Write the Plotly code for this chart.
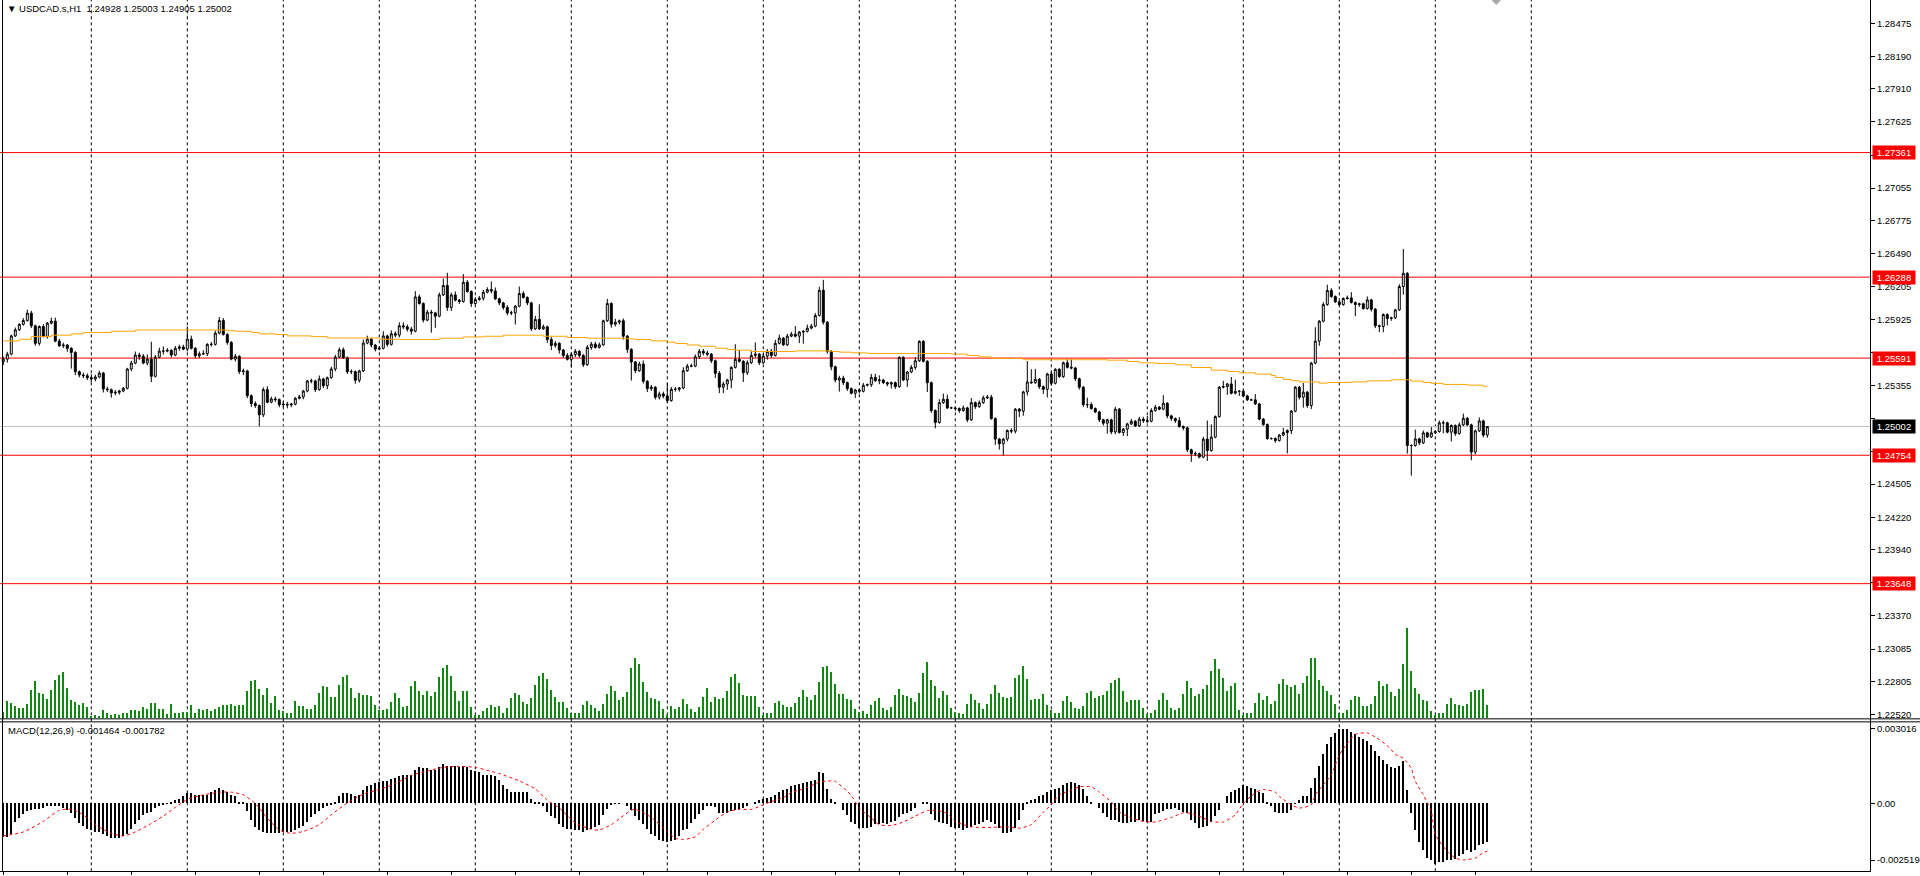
import plotly.graph_objects as go

# ---------------- data ----------------
header_text = "USDCAD.s,H1  1.24928 1.25003 1.24905 1.25002"
macd_text = "MACD(12,26,9) -0.001464 -0.001782"

first_open = 1.25560
closes = [
    1.25582, 1.25625, 1.25782, 1.25834, 1.25881, 1.25915, 1.25978, 1.25869, 1.25718, 1.25863, 1.25778, 1.25892,
    1.25909, 1.25737, 1.25697, 1.25703, 1.25675, 1.25640, 1.25474, 1.25445, 1.25439, 1.25422, 1.25411, 1.25428,
    1.25462, 1.25325, 1.25319, 1.25290, 1.25296, 1.25307, 1.25331, 1.25497, 1.25548, 1.25617, 1.25606, 1.25548,
    1.25582, 1.25434, 1.25599, 1.25651, 1.25651, 1.25657, 1.25617, 1.25675, 1.25686, 1.25668, 1.25754, 1.25675,
    1.25611, 1.25628, 1.25628, 1.25709, 1.25709, 1.25806, 1.25915, 1.25795, 1.25726, 1.25582, 1.25606, 1.25474,
    1.25480, 1.25267, 1.25199, 1.25182, 1.25102, 1.25319, 1.25211, 1.25239, 1.25233, 1.25188, 1.25194, 1.25188,
    1.25194, 1.25245, 1.25256, 1.25307, 1.25394, 1.25394, 1.25319, 1.25411, 1.25353, 1.25422, 1.25497, 1.25599,
    1.25662, 1.25594, 1.25474, 1.25474, 1.25400, 1.25480, 1.25720, 1.25754, 1.25703, 1.25668, 1.25675, 1.25782,
    1.25709, 1.25800, 1.25789, 1.25869, 1.25860, 1.25840, 1.25823, 1.26118, 1.26061, 1.25918, 1.25986, 1.25980,
    1.25952, 1.26135, 1.26216, 1.26027, 1.26135, 1.26090, 1.26078, 1.26244, 1.26164, 1.26061, 1.26095, 1.26106,
    1.26158, 1.26181, 1.26169, 1.26101, 1.26066, 1.26027, 1.25980, 1.25980, 1.26038, 1.26147, 1.26113, 1.26066,
    1.25843, 1.25924, 1.25843, 1.25860, 1.25752, 1.25700, 1.25718, 1.25660, 1.25614, 1.25580, 1.25620, 1.25649,
    1.25614, 1.25534, 1.25683, 1.25711, 1.25683, 1.25705, 1.25912, 1.26061, 1.25883, 1.25900, 1.25912, 1.25780,
    1.25666, 1.25557, 1.25482, 1.25540, 1.25391, 1.25328, 1.25340, 1.25254, 1.25282, 1.25265, 1.25225, 1.25322,
    1.25322, 1.25333, 1.25482, 1.25522, 1.25522, 1.25602, 1.25649, 1.25634, 1.25625, 1.25568, 1.25460, 1.25340,
    1.25368, 1.25402, 1.25511, 1.25580, 1.25563, 1.25465, 1.25551, 1.25614, 1.25625, 1.25551, 1.25608, 1.25649,
    1.25614, 1.25718, 1.25763, 1.25705, 1.25780, 1.25797, 1.25780, 1.25815, 1.25821, 1.25849, 1.25866, 1.25958,
    1.26175, 1.25900, 1.25649, 1.25516, 1.25402, 1.25419, 1.25379, 1.25328, 1.25288, 1.25316, 1.25305, 1.25357,
    1.25362, 1.25425, 1.25396, 1.25402, 1.25379, 1.25368, 1.25379, 1.25345, 1.25597, 1.25402, 1.25471, 1.25511,
    1.25568, 1.25735, 1.25563, 1.25379, 1.25139, 1.25036, 1.25207, 1.25236, 1.25162, 1.25162, 1.25156, 1.25139,
    1.25162, 1.25059, 1.25207, 1.25173, 1.25207, 1.25248, 1.25254, 1.25070, 1.24893, 1.24853, 1.24893, 1.24967,
    1.24962, 1.25151, 1.25134, 1.25299, 1.25385, 1.25379, 1.25408, 1.25345, 1.25322, 1.25454, 1.25374, 1.25494,
    1.25431, 1.25551, 1.25511, 1.25505, 1.25413, 1.25340, 1.25190, 1.25190, 1.25156, 1.25127, 1.25059, 1.25030,
    1.25059, 1.24955, 1.25151, 1.24950, 1.24979, 1.25024, 1.25047, 1.25007, 1.25065, 1.25052, 1.25047, 1.25139,
    1.25168, 1.25151, 1.25202, 1.25093, 1.25070, 1.25052, 1.25001, 1.24990, 1.24801, 1.24767, 1.24767, 1.24738,
    1.24893, 1.24795, 1.24910, 1.25087, 1.25340, 1.25345, 1.25368, 1.25288, 1.25305, 1.25305, 1.25265, 1.25231,
    1.25231, 1.25196, 1.25065, 1.25018, 1.24898, 1.24898, 1.24881, 1.24927, 1.24950, 1.24967, 1.25134, 1.25340,
    1.25254, 1.25297, 1.25182, 1.25548, 1.25737, 1.25909, 1.26052, 1.26173, 1.26121, 1.26075, 1.26052, 1.26104,
    1.26109, 1.26070, 1.26052, 1.26058, 1.26018, 1.26092, 1.26012, 1.25869, 1.25863, 1.25966, 1.25932, 1.25937,
    1.26006, 1.26207, 1.26321, 1.24838, 1.24838, 1.24895, 1.24861, 1.24947, 1.24912, 1.24947, 1.24958, 1.25033,
    1.25033, 1.24953, 1.25010, 1.24941, 1.25016, 1.25073, 1.25016, 1.24781, 1.24964, 1.25050, 1.24928, 1.25002,
]

# upper / lower shadow length of each candle, in pips
wick_up_pips = [
    2, 2, 1, 2, 1, 2, 3, 2, 1, 1, 2, 1, 3, 3, 2, 2, 1, 1, 1, 1, 2, 2, 3, 2,
    2, 1, 2, 1, 2, 1, 1, 1, 2, 3, 2, 2, 4, 15, 2, 3, 4, 2, 1, 2, 2, 2, 11, 3,
    1, 2, 3, 1, 2, 2, 3, 2, 1, 1, 2, 1, 2, 1, 1, 2, 1, 2, 3, 2, 2, 1, 2, 2,
    1, 1, 2, 1, 1, 2, 1, 3, 1, 1, 2, 2, 2, 2, 1, 2, 1, 1, 3, 3, 1, 1, 2, 4,
    1, 3, 2, 3, 3, 2, 2, 5, 2, 1, 2, 2, 1, 2, 6, 11, 2, 3, 1, 7, 2, 1, 2, 2,
    2, 2, 7, 3, 1, 1, 2, 2, 1, 6, 2, 1, 1, 3, 13, 2, 1, 2, 2, 1, 1, 2, 2, 2,
    1, 1, 2, 2, 2, 2, 1, 4, 1, 3, 1, 2, 1, 1, 1, 2, 3, 1, 2, 1, 2, 2, 11, 2,
    2, 1, 3, 2, 2, 2, 2, 2, 2, 1, 1, 2, 2, 1, 1, 13, 8, 1, 2, 4, 10, 1, 2, 2,
    2, 3, 3, 1, 2, 2, 7, 1, 1, 3, 2, 2, 3, 9, 1, 1, 1, 2, 2, 1, 1, 1, 1, 2,
    1, 3, 3, 4, 1, 1, 1, 1, 1, 1, 1, 2, 3, 1, 1, 1, 1, 1, 3, 5, 4, 1, 1, 1,
    2, 1, 4, 1, 2, 2, 2, 2, 1, 1, 1, 1, 2, 1, 1, 1, 18, 11, 9, 1, 1, 1, 2, 1,
    1, 1, 3, 7, 1, 1, 1, 6, 2, 1, 1, 1, 1, 1, 2, 1, 1, 1, 2, 1, 2, 2, 4, 2,
    2, 1, 7, 1, 1, 1, 3, 1, 1, 1, 2, 1, 2, 16, 11, 1, 1, 5, 1, 6, 10, 1, 1, 1,
    1, 5, 1, 1, 1, 1, 1, 1, 4, 1, 1, 1, 1, 8, 1, 1, 12, 1, 2, 5, 2, 1, 1, 1,
    2, 5, 1, 1, 1, 3, 1, 1, 1, 1, 1, 1, 1, 2, 21, 1, 1, 8, 1, 2, 1, 5, 1, 2,
    2, 1, 1, 1, 2, 4, 1, 1, 1, 3, 1, 0.1,
]
wick_dn_pips = [
    3, 3, 1, 1, 1, 1, 1, 2, 2, 2, 1, 2, 1, 1, 1, 2, 3, 14, 3, 2, 2, 2, 3, 2,
    1, 3, 2, 4, 2, 2, 1, 1, 2, 1, 3, 1, 2, 5, 1, 1, 3, 1, 2, 1, 2, 1, 2, 1,
    2, 2, 1, 2, 2, 1, 1, 1, 2, 1, 2, 2, 3, 2, 3, 2, 10, 2, 1, 1, 2, 2, 2, 3,
    2, 1, 1, 2, 1, 2, 2, 1, 2, 3, 1, 2, 1, 1, 2, 2, 3, 2, 1, 1, 2, 2, 1, 1,
    2, 1, 2, 2, 2, 2, 3, 1, 1, 2, 1, 17, 10, 1, 1, 3, 3, 1, 2, 1, 1, 3, 1, 1,
    2, 1, 2, 1, 2, 2, 2, 2, 10, 1, 1, 2, 2, 1, 1, 1, 3, 4, 2, 3, 2, 1, 7, 2,
    2, 2, 1, 2, 1, 1, 1, 1, 3, 2, 2, 3, 3, 16, 2, 1, 2, 3, 2, 2, 2, 2, 2, 1,
    2, 2, 1, 1, 1, 1, 2, 2, 2, 2, 4, 5, 5, 5, 7, 1, 1, 8, 2, 1, 2, 2, 1, 3,
    2, 1, 1, 1, 1, 1, 1, 6, 10, 1, 1, 1, 1, 2, 2, 3, 2, 10, 2, 2, 1, 4, 2, 1,
    1, 2, 1, 3, 1, 2, 4, 2, 1, 1, 6, 1, 2, 1, 1, 8, 2, 5, 1, 1, 1, 1, 2, 2,
    1, 2, 1, 2, 1, 1, 1, 1, 5, 5, 10, 2, 2, 2, 5, 4, 3, 1, 1, 2, 4, 7, 2, 1,
    1, 1, 1, 1, 2, 2, 2, 3, 1, 1, 2, 2, 9, 2, 2, 1, 3, 6, 1, 1, 1, 2, 2, 1,
    1, 1, 1, 2, 2, 2, 1, 2, 2, 7, 2, 1, 1, 9, 1, 1, 1, 1, 7, 1, 1, 4, 1, 1,
    1, 1, 1, 1, 1, 1, 2, 1, 1, 18, 3, 1, 2, 9, 2, 3, 1, 4, 1, 1, 1, 1, 1, 1,
    1, 1, 10, 2, 1, 1, 2, 2, 5, 5, 6, 2, 1, 1, 7, 7, 26, 1, 2, 1, 1, 1, 1, 1,
    9, 1, 8, 2, 1, 1, 1, 7, 2, 1, 2, 2.3,
]

# tick volume (hundreds of ticks)
volumes = [
    6, 17, 15, 12, 10, 10, 14, 28, 37, 25, 24, 19, 28, 38, 43, 46, 30, 18, 16, 13, 15, 11, 2, 3,
    2, 8, 5, 3, 4, 3, 5, 5, 8, 8, 7, 11, 9, 15, 15, 9, 9, 4, 14, 5, 5, 6, 6, 13,
    5, 9, 8, 9, 7, 9, 11, 13, 13, 14, 12, 13, 13, 27, 37, 38, 29, 23, 30, 15, 22, 8, 7, 5,
    5, 17, 12, 12, 9, 9, 13, 25, 32, 31, 21, 21, 33, 41, 43, 30, 20, 25, 23, 23, 22, 13, 8, 8,
    9, 16, 25, 20, 11, 12, 32, 37, 27, 23, 27, 22, 26, 41, 50, 53, 42, 27, 17, 27, 27, 11, 3, 3,
    7, 10, 13, 11, 12, 5, 10, 20, 25, 23, 16, 14, 20, 33, 42, 45, 39, 28, 21, 16, 16, 10, 5, 5,
    5, 13, 17, 13, 10, 7, 14, 24, 32, 27, 18, 21, 26, 50, 60, 54, 36, 26, 20, 19, 17, 9, 3, 12,
    9, 11, 19, 14, 9, 6, 11, 21, 30, 16, 21, 19, 20, 27, 41, 44, 35, 23, 22, 22, 22, 11, 3, 5,
    5, 15, 17, 13, 11, 11, 15, 21, 28, 21, 18, 23, 36, 51, 52, 46, 34, 24, 24, 19, 18, 9, 6, 7,
    4, 13, 17, 20, 10, 8, 11, 23, 29, 23, 22, 20, 16, 25, 45, 56, 38, 32, 20, 27, 23, 10, 6, 5,
    4, 14, 24, 18, 15, 9, 14, 24, 33, 25, 21, 20, 21, 40, 43, 52, 39, 18, 19, 19, 24, 13, 8, 5,
    5, 17, 22, 16, 10, 9, 12, 25, 27, 20, 22, 23, 27, 35, 38, 40, 27, 16, 18, 18, 18, 10, 4, 5,
    8, 18, 25, 18, 10, 8, 10, 24, 37, 30, 22, 24, 29, 33, 47, 59, 49, 40, 27, 32, 35, 8, 3, 5,
    5, 15, 25, 18, 22, 14, 17, 34, 39, 33, 31, 33, 24, 35, 42, 60, 61, 38, 32, 27, 23, 14, 5, 5,
    8, 18, 22, 21, 12, 12, 14, 22, 37, 32, 34, 26, 22, 29, 54, 91, 47, 30, 24, 18, 17, 7, 3, 5,
    5, 14, 20, 14, 13, 12, 14, 26, 28, 28, 29, 13,
]

# MACD main line (histogram)
macd_main = [
    -0.00126, -0.00126, -0.00114, -0.00072, -0.00054, -0.00042, -0.00030, -0.00025, -0.00022, -0.00022, -0.00017, -0.00012,
    -0.00010, -0.00010, -0.00012, -0.00017, -0.00025, -0.00035, -0.00057, -0.00074, -0.00084, -0.00096, -0.00101, -0.00109,
    -0.00109, -0.00116, -0.00124, -0.00129, -0.00131, -0.00129, -0.00124, -0.00114, -0.00096, -0.00079, -0.00062, -0.00045,
    -0.00037, -0.00032, -0.00017, -0.00010, -0.00005, -0.00001, 0.00005, 0.00010, 0.00017, 0.00027, 0.00037, 0.00037,
    0.00032, 0.00030, 0.00030, 0.00032, 0.00042, 0.00047, 0.00057, 0.00047, 0.00042, 0.00030, 0.00025, 0.00005,
    0.00002, -0.00030, -0.00064, -0.00087, -0.00101, -0.00106, -0.00111, -0.00111, -0.00111, -0.00111, -0.00109, -0.00106,
    -0.00106, -0.00101, -0.00092, -0.00084, -0.00069, -0.00052, -0.00042, -0.00030, -0.00020, -0.00012, -0.00005, 0.00005,
    0.00025, 0.00037, 0.00037, 0.00035, 0.00027, 0.00032, 0.00049, 0.00062, 0.00067, 0.00074, 0.00077, 0.00082,
    0.00082, 0.00089, 0.00094, 0.00101, 0.00104, 0.00104, 0.00106, 0.00124, 0.00134, 0.00131, 0.00131, 0.00124,
    0.00124, 0.00134, 0.00146, 0.00138, 0.00138, 0.00138, 0.00134, 0.00138, 0.00134, 0.00124, 0.00119, 0.00114,
    0.00106, 0.00106, 0.00106, 0.00101, 0.00085, 0.00069, 0.00054, 0.00042, 0.00042, 0.00042, 0.00042, 0.00040,
    0.00015, 0.00002, 0.00001, -0.00012, -0.00032, -0.00047, -0.00057, -0.00077, -0.00087, -0.00096, -0.00096, -0.00101,
    -0.00101, -0.00109, -0.00101, -0.00096, -0.00089, -0.00082, -0.00045, -0.00022, -0.00005, -0.00001, -0.00001, 0.00000,
    -0.00010, -0.00025, -0.00047, -0.00062, -0.00079, -0.00096, -0.00114, -0.00124, -0.00136, -0.00141, -0.00146, -0.00141,
    -0.00136, -0.00121, -0.00101, -0.00096, -0.00074, -0.00059, -0.00042, -0.00027, -0.00010, -0.00010, -0.00015, -0.00035,
    -0.00035, -0.00037, -0.00030, -0.00025, -0.00022, -0.00017, -0.00012, 0.00000, 0.00005, 0.00010, 0.00017, 0.00020,
    0.00022, 0.00032, 0.00042, 0.00047, 0.00054, 0.00062, 0.00067, 0.00072, 0.00074, 0.00079, 0.00082, 0.00087,
    0.00114, 0.00111, 0.00054, 0.00015, 0.00001, 0.00000, -0.00025, -0.00045, -0.00069, -0.00079, -0.00092, -0.00092,
    -0.00094, -0.00087, -0.00079, -0.00077, -0.00074, -0.00077, -0.00072, -0.00067, -0.00052, -0.00042, -0.00035, -0.00030,
    -0.00020, 0.00000, 0.00002, 0.00002, -0.00042, -0.00062, -0.00069, -0.00074, -0.00079, -0.00087, -0.00094, -0.00094,
    -0.00099, -0.00092, -0.00087, -0.00082, -0.00079, -0.00072, -0.00064, -0.00072, -0.00079, -0.00092, -0.00111, -0.00111,
    -0.00109, -0.00092, -0.00062, -0.00027, 0.00002, 0.00010, 0.00017, 0.00025, 0.00032, 0.00040, 0.00049, 0.00052,
    0.00057, 0.00067, 0.00074, 0.00079, 0.00074, 0.00069, 0.00054, 0.00025, 0.00002, 0.00000, -0.00017, -0.00037,
    -0.00052, -0.00062, -0.00064, -0.00072, -0.00074, -0.00074, -0.00069, -0.00069, -0.00064, -0.00067, -0.00072, -0.00069,
    -0.00042, -0.00037, -0.00030, -0.00022, -0.00022, -0.00020, -0.00025, -0.00032, -0.00037, -0.00062, -0.00074, -0.00092,
    -0.00087, -0.00084, -0.00069, -0.00047, -0.00025, 0.00000, 0.00025, 0.00040, 0.00049, 0.00057, 0.00069, 0.00062,
    0.00057, 0.00052, 0.00042, 0.00037, 0.00005, -0.00010, -0.00032, -0.00035, -0.00037, -0.00037, -0.00025, -0.00001,
    0.00010, 0.00025, 0.00027, 0.00057, 0.00094, 0.00138, 0.00181, 0.00220, 0.00245, 0.00262, 0.00275, 0.00275,
    0.00277, 0.00265, 0.00257, 0.00247, 0.00240, 0.00232, 0.00215, 0.00195, 0.00176, 0.00161, 0.00146, 0.00134,
    0.00129, 0.00138, 0.00156, 0.00047, -0.00035, -0.00099, -0.00146, -0.00176, -0.00203, -0.00213, -0.00228, -0.00220,
    -0.00218, -0.00210, -0.00210, -0.00208, -0.00195, -0.00188, -0.00173, -0.00183, -0.00176, -0.00156, -0.00153, -0.001464,
]

# MACD signal line (bar index, value)
signal_bar = [
    0, 5, 10, 14, 17, 20, 23, 27, 30, 33, 37, 40, 43, 46, 50, 54, 57, 60, 63, 66,
    69, 72, 75, 79, 82, 86, 90, 94, 98, 102, 106, 110, 114, 118, 122, 124, 129, 133, 136, 139,
    143, 147, 149, 152, 154, 157, 158, 161, 163, 166, 168, 170, 173, 175, 178, 181, 184, 187, 190, 192,
    195, 197, 201, 204, 207, 208, 211, 212, 214, 217, 219, 222, 225, 228, 231, 233, 236, 238, 242, 247,
    251, 254, 257, 260, 262, 264, 267, 269, 272, 274, 277, 279, 282, 285, 288, 292, 295, 297, 300, 302,
    305, 308, 310, 313, 315, 318, 319, 320, 322, 324, 327, 328, 330, 332, 333, 334, 336, 338, 341, 343,
    346, 348, 350, 352, 353, 355, 357, 358, 361, 363, 365, 368, 370, 371,
]
signal_val = [
    -0.00121, -0.00106, -0.00067, -0.00025, -0.00022, -0.00042, -0.00079, -0.00111, -0.00121, -0.00106,
    -0.00074, -0.00047, -0.00015, 0.00015, 0.00032, 0.00042, 0.00042, 0.00032, 0.0, -0.00054,
    -0.00099, -0.00111, -0.00104, -0.00079, -0.00042, 0.00002, 0.00035, 0.00052, 0.00074, 0.00104,
    0.00121, 0.00134, 0.00138, 0.00134, 0.00119, 0.00111, 0.00084, 0.00054, 0.00012, -0.00017,
    -0.00072, -0.00096, -0.00099, -0.00079, -0.00057, -0.00025, -0.00022, -0.00042, -0.00064, -0.00104,
    -0.00129, -0.00134, -0.00124, -0.00096, -0.00062, -0.00032, -0.00022, -0.00022, -0.00005, 0.00007,
    0.00022, 0.0004, 0.00059, 0.00079, 0.00084, 0.00082, 0.00045, 0.0003, -0.00017, -0.00054,
    -0.00079, -0.00082, -0.00069, -0.00047, -0.00027, -0.00025, -0.00037, -0.00067, -0.00087, -0.00089,
    -0.00087, -0.00092, -0.00079, -0.00032, -0.00005, 0.00032, 0.00049, 0.00062, 0.00062, 0.00042,
    0.00005, -0.00032, -0.00054, -0.00067, -0.00069, -0.00052, -0.00035, -0.00037, -0.00054, -0.00067,
    -0.00069, -0.00042, 0.0, 0.0004, 0.00052, 0.00042, 0.00027, 0.00015, -0.00005, -0.00017,
    -0.00005, 0.00032, 0.00069, 0.00106, 0.00143, 0.0018, 0.00223, 0.00257, 0.00262, 0.00247,
    0.00215, 0.00183, 0.00168, 0.00131, 0.00082, 0.00032, -0.0003, -0.00116, -0.00178, -0.00203,
    -0.0021, -0.00203, -0.00183, -0.001782,
]

# moving average (orange), stepped: (bar index where a step starts, value)
ma_bar = [
    0, 4, 7, 12, 17, 20, 27, 33, 56, 58, 62, 64, 68, 71, 77, 81, 94, 99, 109, 115, 120, 125, 135, 141,
    146, 156, 158, 162, 166, 168, 171, 174, 178, 181, 183, 187, 198, 207, 209, 212, 216, 237, 241, 244,
    247, 255, 276, 281, 284, 288, 293, 297, 302, 306, 309, 313, 317, 318, 320, 322, 324, 329, 331, 337,
    341, 347, 352, 355, 357, 360, 366, 370, 371,
]
ma_val = [
    1.25739, 1.25753, 1.25776, 1.25788, 1.25799, 1.25811, 1.25822, 1.25833, 1.25826, 1.25822, 1.25811, 1.25799,
    1.25794, 1.25782, 1.25776, 1.25764, 1.25753, 1.25751, 1.25762, 1.25773, 1.25779, 1.25788, 1.25779, 1.25768,
    1.25762, 1.25756, 1.25751, 1.25739, 1.25728, 1.25717, 1.25704, 1.25693, 1.25676, 1.25665, 1.25659, 1.25648,
    1.25653, 1.25648, 1.25642, 1.25636, 1.25631, 1.25625, 1.25613, 1.25601, 1.25590, 1.25577, 1.25573, 1.25562,
    1.25550, 1.25545, 1.25533, 1.25510, 1.25487, 1.25476, 1.25464, 1.25453, 1.25441, 1.25424, 1.25407, 1.25395,
    1.25386, 1.25375, 1.25381, 1.25386, 1.25395, 1.25404, 1.25392, 1.25381, 1.25373, 1.25364, 1.25358, 1.25347,
    1.25347,
]

level_prices = [1.27361, 1.26288, 1.25591, 1.24754, 1.23648]
level_labels = ["1.27361", "1.26288", "1.25591", "1.24754", "1.23648"]
bid_price = 1.25002
bid_label = "1.25002"

price_ticks = [1.28475, 1.28190, 1.27910, 1.27625, 1.27340, 1.27055, 1.26775, 1.26490, 1.26205, 1.25925, 1.25640,
               1.25355, 1.25070, 1.24790, 1.24505, 1.24220, 1.23940, 1.23655, 1.23370, 1.23085, 1.22805, 1.22520]
macd_tick_text = ["0.003016", "0.00", "-0.002519"]

# ---------------- derived OHLC ----------------
n = len(closes)
bars = list(range(n))
opens = [first_open] + closes[:-1]
highs = [max(o, c) + u * 1e-4 for o, c, u in zip(opens, closes, wick_up_pips)]
lows = [min(o, c) - d * 1e-4 for o, c, d in zip(opens, closes, wick_dn_pips)]
assert len(wick_up_pips) == n and len(wick_dn_pips) == n, (n, len(wick_up_pips), len(wick_dn_pips))
assert len(volumes) == n and len(macd_main) == n, (len(volumes), len(macd_main))

# tick labels that sit underneath the coloured price tags are not printed
covered = set()
for p in level_prices + [bid_price]:
    for t in price_ticks:
        if abs(t - p) < 0.0008:
            covered.add(t)
price_tick_text = ["" if t in covered else "%.5f" % t for t in price_ticks]

# ---------------- geometry (pixels of the 1920x876 page) ----------------
W, H = 1920, 876
PLOT_R = 1870.0          # right edge of the chart area
MAIN_BOT = 720.0         # bottom of price pane
MACD_TOP, MACD_BOT = 723.0, 873.3
BAR_PX = 4.0
FIRST_PX = 3.3


def fx(px):
    return px / W


def fy(py):
    return (H - py) / H


x_lo = -FIRST_PX / BAR_PX
x_hi = x_lo + PLOT_R / BAR_PX

price_top, price_bot = 1.28675, 1.22488
macd_top, macd_bot = 0.003053, -0.002523
macd_per_px = (macd_top - macd_bot) / (MACD_BOT - MACD_TOP)
macd_tickvals = [macd_top - (730 - MACD_TOP) * macd_per_px, 0.0, macd_top - (862 - MACD_TOP) * macd_per_px]

FONT = "Liberation Sans, Arial, sans-serif"
FS = 9.5

fig = go.Figure()

fig.add_trace(go.Bar(x=bars, y=volumes, width=0.25, marker=dict(color="#118811", line=dict(width=0)),
                     xaxis="x", yaxis="y3", hoverinfo="skip", showlegend=False))
fig.add_trace(go.Candlestick(
    x=bars, open=opens, high=highs, low=lows, close=closes,
    increasing=dict(line=dict(color="black", width=1), fillcolor="white"),
    decreasing=dict(line=dict(color="black", width=1), fillcolor="black"),
    whiskerwidth=0, xaxis="x", yaxis="y", showlegend=False, hoverinfo="skip"))
fig.add_trace(go.Scatter(x=ma_bar, y=ma_val, mode="lines", line=dict(color="#FFA500", width=1, shape="hv"),
                         xaxis="x", yaxis="y", hoverinfo="skip", showlegend=False))
fig.add_trace(go.Bar(x=bars, y=macd_main, width=0.25, marker=dict(color="black", line=dict(width=0)),
                     xaxis="x", yaxis="y2", hoverinfo="skip", showlegend=False))
fig.add_trace(go.Scatter(x=signal_bar, y=signal_val, mode="lines",
                         line=dict(color="#FF0000", width=1, dash="3px,3px", shape="spline", smoothing=0.6),
                         xaxis="x", yaxis="y2", hoverinfo="skip", showlegend=False))

shapes = []
# daily separators
for k in range(22, 383, 24):
    shapes.append(dict(type="line", xref="x", yref="paper", x0=k, x1=k, y0=fy(MACD_BOT), y1=1,
                       line=dict(color="black", width=1, dash="3px,3px"), layer="below"))
# horizontal levels
for p in level_prices:
    shapes.append(dict(type="line", xref="paper", yref="y", x0=0, x1=fx(PLOT_R), y0=p, y1=p,
                       line=dict(color="#FF0000", width=1), layer="below"))
shapes.append(dict(type="line", xref="paper", yref="y", x0=0, x1=fx(PLOT_R), y0=bid_price, y1=bid_price,
                   line=dict(color="#C0C0C0", width=1), layer="below"))
# frame lines
blk = dict(color="black", width=1)
shapes += [
    dict(type="line", xref="paper", yref="paper", x0=fx(2.5), x1=fx(2.5), y0=fy(MACD_BOT), y1=1, line=blk),
    dict(type="line", xref="paper", yref="paper", x0=fx(PLOT_R + 0.5), x1=fx(PLOT_R + 0.5), y0=fy(MACD_BOT), y1=1, line=blk),
    dict(type="line", xref="paper", yref="paper", x0=0, x1=1, y0=fy(MAIN_BOT + 0.5), y1=fy(MAIN_BOT + 0.5), line=blk),
    dict(type="line", xref="paper", yref="paper", x0=0, x1=1, y0=fy(MACD_TOP + 0.5), y1=fy(MACD_TOP + 0.5), line=blk),
    dict(type="line", xref="paper", yref="paper", x0=0, x1=fx(PLOT_R + 1), y0=fy(MACD_BOT + 0.2), y1=fy(MACD_BOT + 0.2), line=blk),
]
# chart-shift marker
shapes.append(dict(type="path", xref="paper", yref="paper",
                   path="M %f %f L %f %f L %f %f Z" % (fx(1491.5), fy(0), fx(1501), fy(0), fx(1496.3), fy(5)),
                   fillcolor="#A8A8A8", line=dict(width=0)))

annotations = [
    dict(xref="paper", yref="paper", x=fx(5), y=fy(1), xanchor="left", yanchor="top", showarrow=False,
         text="▼ " + header_text, font=dict(family=FONT, size=FS, color="black")),
    dict(xref="paper", yref="paper", x=fx(6), y=fy(725), xanchor="left", yanchor="top", showarrow=False,
         text=macd_text, font=dict(family=FONT, size=FS, color="black")),
]
for p, t in zip(level_prices, level_labels):
    annotations.append(dict(xref="paper", yref="y", x=fx(PLOT_R + 2), y=p, xanchor="left", yanchor="middle",
                            showarrow=False, text=t, bgcolor="#FF0000", width=40, height=11, borderpad=1,
                            font=dict(family=FONT, size=FS, color="white")))
annotations.append(dict(xref="paper", yref="y", x=fx(PLOT_R + 2), y=bid_price, xanchor="left", yanchor="middle",
                        showarrow=False, text=bid_label, bgcolor="black", width=40, height=11, borderpad=1,
                        font=dict(family=FONT, size=FS, color="white")))

fig.update_layout(
    width=W, height=H, margin=dict(l=0, r=0, t=0, b=0),
    paper_bgcolor="white", plot_bgcolor="white", showlegend=False, bargap=0,
    xaxis=dict(domain=[0, fx(PLOT_R)], range=[x_lo, x_hi], anchor="y2", showgrid=False, zeroline=False,
               showline=False, showticklabels=False, ticks="outside", ticklen=3, tickcolor="black",
               tickvals=list(range(0, n, 16)), rangeslider=dict(visible=False), fixedrange=True),
    yaxis=dict(domain=[fy(MAIN_BOT), 1], range=[price_bot, price_top], side="right", anchor="x",
               showgrid=False, zeroline=False, showline=False, ticks="outside", ticklen=4, tickcolor="black",
               tickvals=price_ticks, ticktext=price_tick_text, tickfont=dict(family=FONT, size=FS, color="black"),
               fixedrange=True),
    yaxis3=dict(overlaying="y", range=[0, MAIN_BOT], visible=False, fixedrange=True),
    yaxis2=dict(domain=[fy(MACD_BOT), fy(MACD_TOP)], range=[macd_bot, macd_top], side="right", anchor="x",
                showgrid=False, zeroline=False, showline=False, ticks="outside", ticklen=4, tickcolor="black",
                tickvals=macd_tickvals, ticktext=macd_tick_text, tickfont=dict(family=FONT, size=FS, color="black"),
                fixedrange=True),
    shapes=shapes, annotations=annotations,
)

fig.write_html("out.html", config={"displayModeBar": False},
               post_script="document.body.style.margin='0px';document.body.style.overflow='hidden';")
